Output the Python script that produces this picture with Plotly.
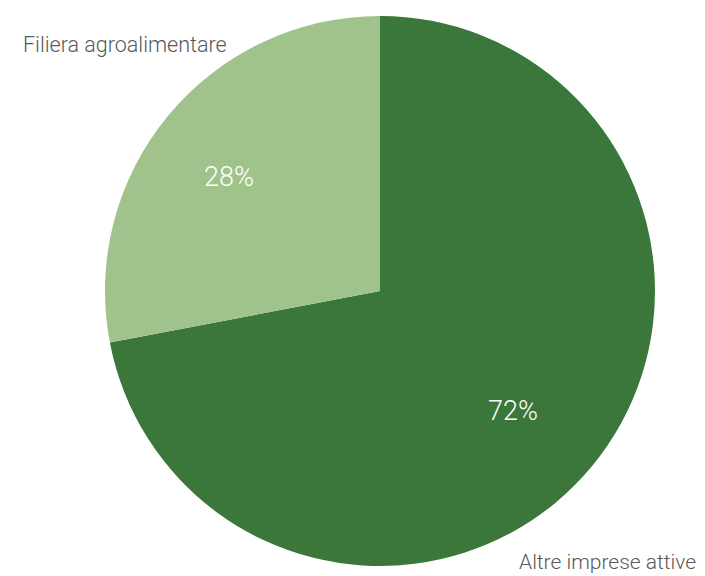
import plotly.graph_objects as go

labels = ["Altre imprese attive", "Filiera agroalimentare"]
values = [72, 28]
colors = ["#3B763B", "#9FC38A"]

W, H = 705, 576
FONT = "Roboto, sans-serif"

fig = go.Figure(go.Pie(
    labels=labels, values=values, sort=False, direction="clockwise", rotation=0,
    marker=dict(colors=colors, line=dict(width=0)),
    textinfo="none", hoverinfo="label+percent",
    hole=0, showlegend=False,
    domain=dict(x=[97 / W, 647 / W], y=[1 - 558 / H, 1 - 8 / H]),
))

total = sum(values)
pct_pos = {"Altre imprese attive": (505, 403), "Filiera agroalimentare": (221, 169)}
for lab, v in zip(labels, values):
    px, py = pct_pos[lab]
    fig.add_annotation(x=px / W, y=1 - py / H, xref="paper", yref="paper",
                       text=f"{round(100 * v / total)}%", showarrow=False,
                       xanchor="center", yanchor="middle",
                       font=dict(size=27, color="white", family=FONT, weight=300))

fig.add_annotation(x=13 / W, y=1 - 36 / H, xref="paper", yref="paper", text=labels[1],
                   showarrow=False, xanchor="left", yanchor="middle",
                   font=dict(size=21.5, color="#595959", family=FONT, weight=300))
fig.add_annotation(x=690 / W, y=1 - 554 / H, xref="paper", yref="paper", text=labels[0],
                   showarrow=False, xanchor="right", yanchor="middle",
                   font=dict(size=21, color="#595959", family=FONT, weight=300))

fig.update_layout(width=W, height=H, margin=dict(l=0, r=0, t=0, b=0),
                  paper_bgcolor="white", plot_bgcolor="white")
fig.write_html("out.html")
